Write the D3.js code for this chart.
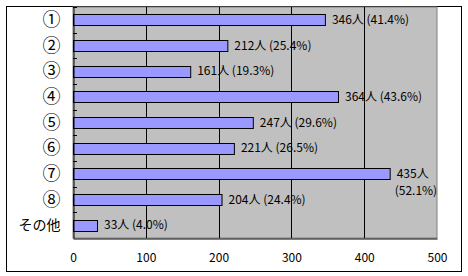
<!DOCTYPE html>
<html>
<head>
<meta charset="utf-8">
<script src="https://cdn.jsdelivr.net/npm/d3@7"></script>
<style>
  body { margin: 0; background: #fff; }
  text { font-family: "Noto Sans CJK JP", "DejaVu Sans", sans-serif; }
</style>
</head>
<body>
<div id="chart"></div>
<script>
// values
const categories = ["①", "②", "③", "④", "⑤", "⑥", "⑦", "⑧", "その他"];
const counts = [346, 212, 161, 364, 247, 221, 435, 204, 33];
const percents = [41.4, 25.4, 19.3, 43.6, 29.6, 26.5, 52.1, 24.4, 4.0];
const xTicks = [0, 100, 200, 300, 400, 500];

(function() {
  const width = 468;
  const height = 276;
  const margin = { top: 7, right: 31, bottom: 38, left: 73 };

  const svg = d3.select("#chart")
    .append("svg")
    .attr("width", width)
    .attr("height", height);

  // outer chart border
  svg.append("rect")
    .attr("x", 6.5).attr("y", 6.5)
    .attr("width", 455).attr("height", 265)
    .attr("fill", "#fff")
    .attr("stroke", "#000");

  const data = categories.map((c, i) => ({ cat: c, count: counts[i], pct: percents[i] }));

  const x = d3.scaleLinear()
    .domain([0, 500])
    .range([margin.left, width - margin.right]);

  const y = d3.scaleBand()
    .domain(categories)
    .range([margin.top, height - margin.bottom])
    .paddingInner(0.57)
    .paddingOuter(0.285);

  // plot area
  svg.append("rect")
    .attr("x", x(0)).attr("y", margin.top)
    .attr("width", x(500) - x(0))
    .attr("height", height - margin.bottom - margin.top)
    .attr("fill", "#c0c0c0")
    .attr("stroke", "#808080");

  // gridlines
  svg.append("g")
    .selectAll("line")
    .data(xTicks.slice(1, -1))
    .join("line")
    .attr("x1", d => Math.round(x(d)) + 0.5)
    .attr("x2", d => Math.round(x(d)) + 0.5)
    .attr("y1", margin.top)
    .attr("y2", height - margin.bottom)
    .attr("stroke", "#000");

  // bars
  svg.selectAll(".bar")
    .data(data)
    .join("rect")
    .attr("class", "bar")
    .attr("x", x(0) + 0.5)
    .attr("y", d => Math.round(y(d.cat)) + 0.5)
    .attr("width", d => x(d.count) - x(0))
    .attr("height", Math.round(y.bandwidth()))
    .attr("fill", "#9999ff")
    .attr("stroke", "#000");

  // x axis
  const xAxis = svg.append("g")
    .attr("transform", `translate(0, ${height - margin.bottom + 0.5})`)
    .call(d3.axisBottom(x).tickValues(xTicks).tickSize(0).tickPadding(15));
  xAxis.select(".domain").attr("stroke", "#000");
  xAxis.selectAll("text").style("font-size", "12px").attr("fill", "#000");

  // y axis (circled numerals look tiny in Noto, so bump them up)
  const yAxis = svg.append("g")
    .attr("transform", `translate(${x(0) + 0.5}, 0)`)
    .call(d3.axisLeft(y).tickSize(0).tickPadding(13));
  yAxis.select(".domain").attr("stroke", "#000");
  yAxis.selectAll("text")
    .style("font-size", d => d.length === 1 ? "18px" : "14px")
    .attr("dy", d => d.length === 1 ? "0.34em" : "0.32em")
    .attr("fill", "#000");

  // inside tick marks at category boundaries
  const gap = (y.step() - y.bandwidth()) / 2;
  svg.append("g")
    .selectAll("line")
    .data(categories)
    .join("line")
    .attr("x1", x(0))
    .attr("x2", x(0) + 4)
    .attr("y1", d => Math.round(y(d) - gap) + 0.5)
    .attr("y2", d => Math.round(y(d) - gap) + 0.5)
    .attr("stroke", "#000");

  // value labels
  const labels = svg.append("g")
    .selectAll("text")
    .data(data)
    .join("text")
    .attr("x", d => x(d.count) + 7)
    .attr("y", d => y(d.cat) + y.bandwidth() / 2)
    .attr("dy", "0.36em")
    .style("font-size", "12px")
    .attr("fill", "#000");

  labels.each(function(d) {
    const t = d3.select(this);
    const first = `${d.count}人`;
    const second = `(${d.pct.toFixed(1)}%)`;
    t.text(`${first} ${second}`);
    if (x(d.count) + 7 + this.getComputedTextLength() > width - margin.right) {
      t.text(null);
      t.append("tspan").text(first);
      t.append("tspan")
        .attr("x", x(d.count) + 5)
        .attr("dy", "1.4em")
        .text(second);
    }
  });
})();
</script>
</body>
</html>
